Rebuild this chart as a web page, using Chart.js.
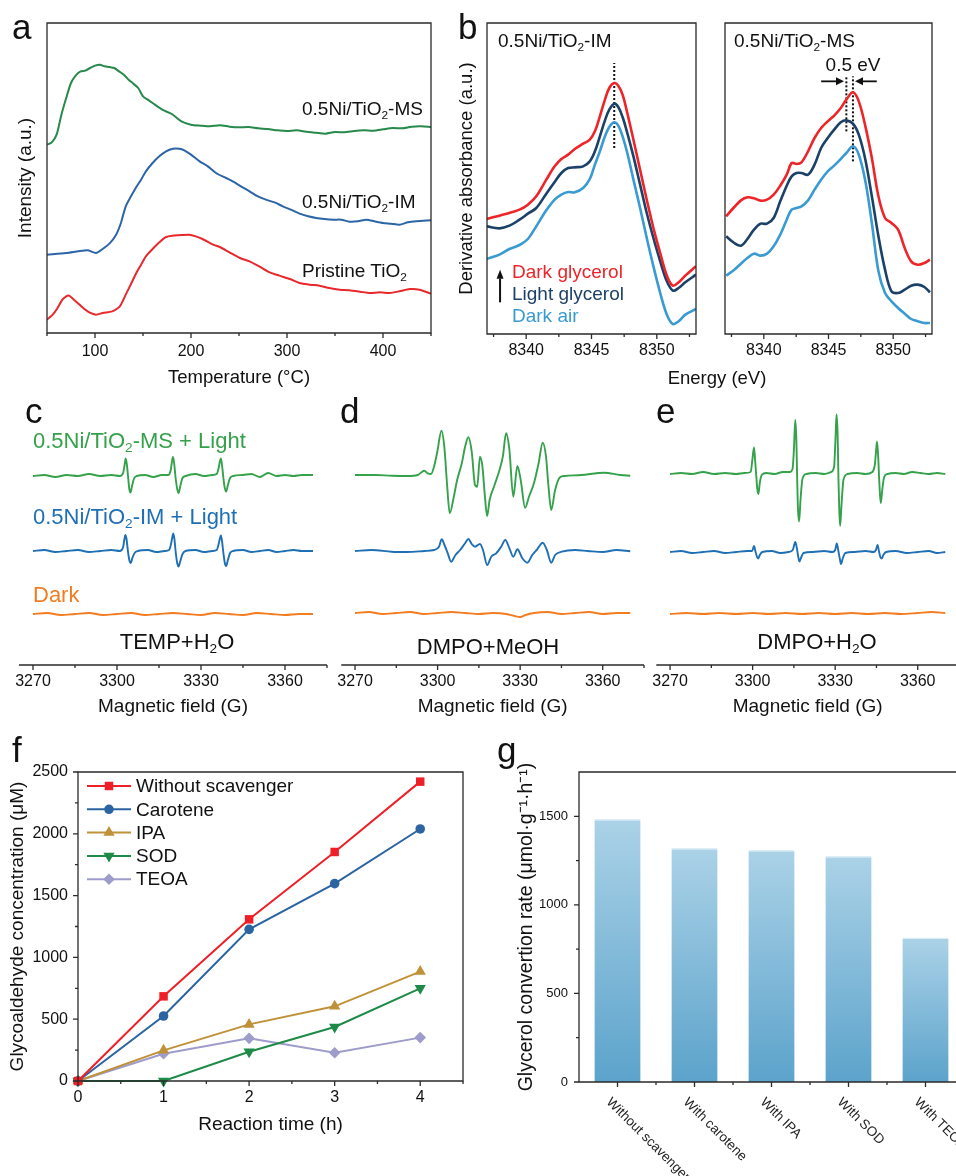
<!DOCTYPE html>
<html>
<head>
<meta charset="utf-8">
<script src="https://cdn.jsdelivr.net/npm/chart.js@4.4.1/dist/chart.umd.min.js"></script>
<style>
  html, body { margin: 0; padding: 0; background: #fff; }
  body { width: 956px; height: 1176px; position: relative; overflow: hidden; font-family: "Liberation Sans", Arial, sans-serif; }
  canvas { position: absolute; }
  .t { position: absolute; white-space: nowrap; line-height: 1; color: #111; }
  .t sub { font-size: 0.62em; vertical-align: -0.3em; line-height: 0; }
</style>
</head>
<body>
<canvas id="pa"></canvas>
<canvas id="pbl"></canvas>
<canvas id="pbr"></canvas>
<canvas id="pc"></canvas>
<canvas id="pd"></canvas>
<canvas id="pe"></canvas>
<canvas id="pf"></canvas>
<canvas id="pg"></canvas>
<script>
'use strict';

// ===== data =====

// a - TPD curves (intensity in arbitrary units)
var tpdMsT = [50,55,60,65,70,75,80,85,90,95,100,105,110,115,120,125,130,135,140,145,150,155,160,170,180,190,200,210,220,230,240,250,260,270,280,290,300,310,320,330,340,350,360,370,380,390,400,410,420,430,440,450];
var tpdMsI = [565,572,595,655,705,750,773,785,787,795,802,805,800,798,795,785,775,760,748,735,710,700,690,670,657,635,625,622,620,623,619,617,618,614,612,608,606,608,604,601,598,603,602,606,608,607,611,615,614,619,620,618];
var tpdImT = [50,70,92,101,108,115,122,127,132,137.5,143,148,153,160,167,174,181,188,193,200,209,217.5,226,236.5,243.5,252,261,269.6,278,287,295.7,304,313,322,330.5,339,348,356.5,365,374,382.6,391,400,408.6,417,426,434.7,450];
var tpdImI = [235,240,248,240,252,268,295,330,380,410,438,460,485,510,530,545,553,553,548,535,515,500,480,465,455,440,425,410,400,392,380,370,358,350,345,342,340,340,334,335,340,335,330,328,325,332,335,338];
var tpdPrT = [50,56,61,66,70,73,78,84,89,94,101,108,118,124,127,132,138,143,148,153,160,167,174,181,190,198,205,212,223,230,240,251,261,271,282,292,303,313,324,334,344,355,365,376,386,397,407,417,428,438,450];
var tpdPrI = [40,55,75,100,110,112,100,85,72,62,55,60,65,75,85,115,150,180,205,230,252,272,288,292,294,295,290,282,265,258,242,225,215,200,182,172,162,150,145,142,135,130,128,124,120,122,120,125,132,130,118];
var aTicks = [100, 200, 300, 400];
var aMinor = [50, 150, 250, 350, 450];

// b - Ni K-edge derivative spectra
var xanesImE = [8336.97,8337.95,8338.72,8339.49,8340.13,8340.77,8341.54,8342.18,8342.69,8343.21,8343.72,8344.36,8344.87,8345.26,8345.64,8346.03,8346.36,8346.74,8347.05,8347.38,8347.74,8348.21,8348.72,8349.23,8349.74,8350.26,8350.77,8351.23,8351.67,8352.18,8353];
var xanesImDarkGly = [345,355,363,373,388,413,463,503,525,538,555,571,583,608,653,703,738,753,745,718,663,583,493,403,318,243,175,145,155,175,203];
var xanesImLightGly = [323,317,325,343,361,378,421,456,483,498,500,503,518,548,593,641,673,691,681,651,603,533,448,363,288,218,158,130,138,155,178];
var xanesImDarkAir = [225,238,255,267,285,323,371,403,418,426,425,438,465,508,548,593,621,635,625,593,543,463,378,288,203,123,58,30,38,58,75];
var xanesMsE = [8337.09,8337.72,8338.23,8338.73,8339.24,8339.75,8340.25,8340.76,8341.27,8341.77,8342.15,8342.53,8342.91,8343.42,8343.92,8344.43,8344.94,8345.44,8345.95,8346.38,8346.89,8347.34,8347.85,8348.35,8348.86,8349.37,8349.87,8350.38,8350.89,8351.39,8351.9,8352.41,8352.84];
var xanesMsDarkGly = [353,381,401,410,407,400,403,418,445,478,513,510,515,548,588,618,638,655,678,703,725,698,623,528,413,348,333,313,258,218,208,213,223];
var xanesMsLightGly = [293,273,265,285,313,331,331,348,398,445,473,483,483,478,508,558,588,613,635,641,631,598,523,413,293,193,128,123,133,145,148,141,125];
var xanesMsDarkAir = [175,193,211,228,241,235,241,263,298,343,373,378,383,401,433,463,488,505,525,543,563,538,458,333,188,123,98,78,61,45,38,33,33];
var imPeakE = 8346.74, imPeakSpan = [558, 813];
var msPeakE = [8346.38, 8346.89], msPeakSpan = [[608, 773], [518, 773]];
var shiftLabel = '0.5 eV', shiftArrowFrom = [8344.43, 8348.73], shiftArrowTo = [8346.2, 8347.05], shiftArrowY = 758, shiftLabelE = 8346.9, shiftLabelY = 788;
var bTicks = [8340, 8345, 8350];
var bMinor = [8337.5, 8342.5, 8347.5, 8352.5];

// c - TEMP + H2O EPR
var cMS = [[3270,189],[3274,190],[3278,188],[3282,190],[3286,189],[3290,191],[3294,189],[3298,190],[3301,189],[3302.2,192],[3302.7,200],[3303.1,206.5],[3303.5,201],[3304,187],[3304.4,176],[3304.8,172.5],[3305.3,178],[3306,186],[3307,189],[3310,190],[3313,188],[3316,190],[3318.3,190],[3319.2,195],[3319.6,203],[3320,208],[3320.4,202],[3320.9,188],[3321.5,176],[3322,172],[3322.6,179],[3323.4,187],[3324.5,189],[3328,191],[3331,189],[3334,190],[3335.6,191],[3336.3,197],[3336.7,203],[3337.1,206.5],[3337.5,200],[3338,187],[3338.5,177],[3339,173.5],[3339.6,180],[3340.4,187],[3341.5,189],[3345,190],[3348,191],[3351,188],[3354,192],[3357,189],[3360,190],[3363,189],[3366,190],[3370,190]];
var cIM = [[3270,114],[3274,115],[3278,113],[3282,114],[3286,115],[3290,113],[3294,114],[3298,115],[3301,114],[3302.2,118],[3302.6,125],[3303,130],[3303.4,126],[3303.9,114],[3304.4,105],[3304.9,102],[3305.5,107],[3306.3,112],[3307.5,114],[3311,115],[3314,113],[3317,114],[3318.6,115],[3319.3,121],[3319.7,127],[3320.1,131.5],[3320.5,126],[3321,112],[3321.5,102],[3322,98.5],[3322.6,104],[3323.4,111],[3324.5,114],[3328,115],[3331,113],[3334,114],[3335.6,115],[3336.3,121],[3336.7,126],[3337.1,129.5],[3337.5,124],[3338,112],[3338.5,102],[3339,99],[3339.6,105],[3340.4,112],[3341.5,114],[3345,115],[3348,113],[3351,114],[3354,115],[3357,113],[3360,114],[3363,115],[3366,114],[3370,114]];
var cDark = [[3270,51],[3275,52],[3280,50],[3285,51],[3290,52],[3295,50],[3300,51],[3305,52],[3310,50],[3315,51],[3320,52],[3325,51],[3330,50],[3335,52],[3340,51],[3345,50],[3350,52],[3355,51],[3360,50],[3365,51],[3370,51]];

// d - DMPO + MeOH EPR
var dMS = [[3270,190],[3277.4,190],[3283.3,189.3],[3289.2,189],[3292.8,190],[3295.2,194.3],[3296.4,191.7],[3297.6,191],[3298.7,198.3],[3299.9,213.3],[3301.4,234.3],[3302.5,216.7],[3303.5,178.3],[3304.4,151.7],[3305.9,168.3],[3307.1,185],[3308.8,201.7],[3310,218.3],[3311.2,227.7],[3312.4,213.3],[3313.6,180],[3314.4,178.3],[3315.4,208.3],[3316.3,198.3],[3317.1,171.7],[3318,149],[3318.9,165],[3320.7,180],[3322.5,195],[3323.7,208.3],[3324.9,231.7],[3326.1,215],[3327.5,168.3],[3329,199],[3330.2,185],[3331.8,157.3],[3333.2,168.3],[3335,181.7],[3336.7,201.7],[3338.2,222.3],[3339.4,208.3],[3340.3,178.3],[3341.3,155],[3342.7,175],[3344.5,187.7],[3346.2,189],[3352.2,190],[3360.5,192.3],[3366.4,190],[3370,189.3]];
var dIM = [[3270,114],[3276,115],[3283.3,113.3],[3289,113],[3295.2,114],[3298.7,115],[3300.5,118.3],[3301.5,125.7],[3302.5,120],[3303.7,111.7],[3304.9,103.3],[3306.5,110],[3308.2,115],[3310,121.7],[3311.2,126],[3312.4,121],[3313.6,118.3],[3315.4,121],[3316.6,114],[3318,100],[3319.5,108.3],[3321.3,111.7],[3323.1,118.3],[3324.6,125],[3326.1,116.7],[3327.5,108.3],[3329,115.7],[3330.8,106.7],[3332.6,102.3],[3334.4,110],[3336.2,115.7],[3338.2,122.3],[3339.7,115],[3341.3,102.3],[3342.7,110],[3345.1,113.3],[3350,115],[3354.6,114],[3360,113],[3365,115],[3370,113.7]];
var dDark = [[3270,52],[3275,53],[3280,51],[3285,52],[3290,53],[3295,51],[3300,52],[3305,53],[3310,52],[3315,51],[3320,52],[3325,51],[3328,49],[3330,48],[3332,50],[3335,52],[3340,53],[3345,51],[3350,52],[3355,53],[3360,51],[3365,52],[3370,52]];

// e - DMPO + H2O EPR
var eMS = [[3270,191],[3274,192],[3278,191],[3282,193],[3286,191],[3290,192],[3294,191],[3297,192],[3299.3,193],[3299.9,205],[3300.5,217.5],[3300.9,205],[3301.3,190],[3301.7,176],[3302.1,171],[3302.6,182],[3303.3,190],[3305,192],[3308,191],[3311,193],[3313.5,193],[3314.5,196],[3315,215],[3315.5,245],[3315.9,225],[3316.2,185],[3316.5,155],[3316.9,143.5],[3317.4,165],[3318.1,186],[3319.5,191],[3323,192],[3326,191],[3328.5,193],[3329.6,198],[3330.1,225],[3330.5,250.5],[3330.9,230],[3331.2,185],[3331.5,155],[3331.8,139],[3332.3,160],[3333,185],[3334.5,191],[3338,192],[3341,191],[3343.5,193],[3344.4,200],[3344.8,212],[3345.2,223.5],[3345.6,210],[3346,185],[3346.3,170],[3346.6,162],[3347.1,175],[3347.8,188],[3349,191],[3352,192],[3355,191],[3358,193],[3361,192],[3364,191],[3367,192],[3370,191]];
var eIM = [[3270,113],[3274,114],[3278,112],[3282,113],[3286,114],[3290,112],[3294,113],[3298,114],[3299.8,114],[3300.5,119],[3301,114],[3301.6,108],[3302,106.5],[3302.6,110],[3303.5,113],[3307,114],[3310,112],[3313,113],[3314.6,115],[3315.5,123],[3316,118],[3316.6,108],[3317,103.5],[3317.7,108],[3318.5,112],[3322,113],[3326,114],[3329,113],[3330,115],[3330.6,121.5],[3331.1,115],[3331.7,106],[3332.1,101],[3332.8,107],[3333.7,112],[3337,113],[3341,114],[3344,113],[3344.8,115],[3345.4,120],[3345.9,114],[3346.4,108],[3346.9,106.5],[3347.5,110],[3348.5,113],[3352,114],[3356,112],[3360,113],[3364,114],[3367,112],[3370,113]];
var eDark = [[3270,51],[3276,52],[3282,51],[3288,52],[3294,51],[3300,52],[3306,51],[3312,52],[3318,51],[3324,52],[3330,51],[3336,52],[3342,51],[3348,52],[3354,51],[3360,52],[3365,53],[3370,52]];
var eprTicks = [3270, 3300, 3330, 3360];
var eprMinor = [3285, 3315, 3345, 3375];

// f - scavenger experiments
var fTimes = [0, 1, 2, 3, 4];
var fWithout = [0, 685, 1308, 1853, 2422];
var fCarotene = [0, 526, 1227, 1597, 2039];
var fIPA = [0, 248, 458, 604, 885];
var fSOD = [0, 0, 237, 437, 750];
var fTEOA = [0, 221, 345, 229, 351];
var fTicksX = [0, 1, 2, 3, 4], fMinorX = [0.5, 1.5, 2.5, 3.5, 4.5];
var fTicksY = [0, 500, 1000, 1500, 2000, 2500], fMinorY = [250, 750, 1250, 1750, 2250];

// g - conversion rates
var gLabels = ['Without scavenger', 'With carotene', 'With IPA', 'With SOD', 'With TEOA'];
var gRates = [1485, 1321, 1310, 1276, 816];
var gTicksY = [0, 500, 1000, 1500], gMinorY = [250, 750, 1250];

// ===== setup =====
var FONT = '"Liberation Sans", Arial, Helvetica, sans-serif';
var INK = '#2a2a2a';
Chart.defaults.font.family = FONT;
Chart.defaults.color = '#111';
Chart.defaults.animation = false;
Chart.defaults.responsive = false;
Chart.defaults.events = [];
Chart.defaults.plugins.legend.display = false;
Chart.defaults.plugins.tooltip.enabled = false;
Chart.defaults.elements.point.radius = 0;

function place(id, x, y, w, h) {
    var c = document.getElementById(id);
    c.width = w; c.height = h;
    c.style.left = x + 'px'; c.style.top = y + 'px';
    return c;
}

function pairs(xs, ys) {
    var out = [];
    for (var i = 0; i < xs.length; i++) out.push({ x: xs[i], y: ys[i] });
    return out;
}

function pts(list) {
    return list.map(function(p) { return { x: p[0], y: p[1] }; });
}

// axis with fixed box size so the plot area lands where the figure has it
function axis(o) {
    var ax = {
        type: o.type || 'linear',
        display: o.display !== false,
        grid: { display: false, drawTicks: false },
        border: { display: false },
        ticks: {
            display: !!o.ticks, autoSkip: false, maxRotation: 0, color: '#111',
            font: { size: o.size || 15 }, padding: o.pad || 8,
            callback: function(v) { return String(v); }
        },
        title: o.title ? { display: true, text: o.title, color: '#111', font: { size: o.tsize }, padding: o.tpad } : { display: false }
    };
    if (o.fit !== undefined) ax.afterFit = function(s) { if (s.isHorizontal()) s.height = o.fit; else s.width = o.fit; };
    if (o.min !== undefined) { ax.min = o.min; ax.max = o.max; }
    if (o.ticks) ax.afterBuildTicks = function(s) { s.ticks = o.ticks.map(function(v) { return { value: v }; }); };
    return ax;
}

// frame + outward tick marks
function deco(o) {
    return {
        id: 'deco',
        afterDraw: function(chart) {
            var ctx = chart.ctx, a = chart.chartArea, sx = chart.scales.x, sy = chart.scales.y;
            ctx.save();
            ctx.strokeStyle = INK; ctx.lineWidth = 1.3;
            ctx.beginPath();
            if (o.box) ctx.rect(a.left, a.top, a.right - a.left, a.bottom - a.top);
            else { ctx.moveTo(a.left, a.bottom); ctx.lineTo(a.right, a.bottom); }
            ctx.stroke();
            ctx.beginPath();
            function xt(list, len) {
                (list || []).forEach(function(v) { var p = sx.getPixelForValue(v); ctx.moveTo(p, a.bottom); ctx.lineTo(p, a.bottom + len); });
            }
            function yt(list, len) {
                (list || []).forEach(function(v) { var p = sy.getPixelForValue(v); ctx.moveTo(a.left, p); ctx.lineTo(a.left - len, p); });
            }
            xt(o.xMajor, 5); xt(o.xMinor, 3);
            yt(o.yMajor, 5); yt(o.yMinor, 3);
            ctx.stroke();
            ctx.restore();
            if (o.extra) o.extra(chart, chart.ctx);
        }
    };
}

function arrow(ctx, x1, y1, x2, y2, len, half) {
    var ang = Math.atan2(y2 - y1, x2 - x1);
    var bx = x2 - Math.cos(ang) * len, by = y2 - Math.sin(ang) * len;
    ctx.beginPath(); ctx.moveTo(x1, y1); ctx.lineTo(bx, by); ctx.stroke();
    ctx.beginPath(); ctx.moveTo(x2, y2);
    ctx.lineTo(bx + Math.sin(ang) * half, by - Math.cos(ang) * half);
    ctx.lineTo(bx - Math.sin(ang) * half, by + Math.cos(ang) * half);
    ctx.closePath(); ctx.fill();
}

function curve(data, color, width, tension) {
    return { data: data, borderColor: color, backgroundColor: color, borderWidth: width, tension: tension || 0, pointRadius: 0, fill: false };
}

function label(html, x, base, size, color, align) {
    var d = document.createElement('div');
    d.className = 't';
    d.innerHTML = html;
    d.style.left = x + 'px';
    d.style.top = (base - 0.85 * size) + 'px';
    d.style.fontSize = size + 'px';
    if (color) d.style.color = color;
    if (align === 'center') d.style.transform = 'translateX(-50%)';
    document.body.appendChild(d);
}

// ===== a =====
new Chart(place('pa', 0, 0, 440, 400), {
    type: 'line',
    data: { datasets: [
        curve(pairs(tpdMsT, tpdMsI), '#27894b', 2, 0.25),
        curve(pairs(tpdImT, tpdImI), '#2c65a6', 2, 0.25),
        curve(pairs(tpdPrT, tpdPrI), '#e8282c', 2, 0.25)
    ] },
    options: {
        layout: { padding: { left: 0, top: 23, right: 9, bottom: 0 } },
        scales: {
            x: axis({ min: 50, max: 450, ticks: aTicks, size: 16, pad: 8.5, fit: 67, title: 'Temperature (\u00b0C)', tsize: 18.5, tpad: { top: 0, bottom: 10.9 } }),
            y: axis({ min: 0, max: 930, fit: 47, title: 'Intensity (a.u.)', tsize: 19, tpad: { top: 14.6, bottom: 0 } })
        }
    },
    plugins: [deco({ box: true, xMajor: aTicks, xMinor: aMinor })]
});

// ===== b =====
var B_RED = '#ee2428', B_NAVY = '#1c4168', B_SKY = '#3a9ad2';

new Chart(place('pbl', 450, 0, 250, 400), {
    type: 'line',
    data: { datasets: [
        curve(pairs(xanesImE, xanesImDarkGly), B_RED, 2.6, 0.35),
        curve(pairs(xanesImE, xanesImLightGly), B_NAVY, 2.6, 0.35),
        curve(pairs(xanesImE, xanesImDarkAir), B_SKY, 2.6, 0.35),
        { data: [{ x: imPeakE, y: imPeakSpan[0] }, { x: imPeakE, y: imPeakSpan[1] }], borderColor: '#111', borderWidth: 2, borderDash: [2, 2], pointRadius: 0 }
    ] },
    options: {
        layout: { padding: { left: 0, top: 23, right: 4, bottom: 0 } },
        scales: {
            x: axis({ min: 8337, max: 8353, ticks: bTicks, size: 16, pad: 7.4, fit: 66 }),
            y: axis({ min: 0, max: 933, fit: 37, title: 'Derivative absorbance (a.u.)', tsize: 18.5, tpad: { top: 5.9, bottom: 0 } })
        }
    },
    plugins: [deco({ box: true, xMajor: bTicks, xMinor: bMinor, extra: function(chart, ctx) {
        var sx = chart.scales.x, sy = chart.scales.y, px = sx.getPixelForValue(8338);
        ctx.save(); ctx.strokeStyle = '#111'; ctx.fillStyle = '#111'; ctx.lineWidth = 2;
        arrow(ctx, px, sy.getPixelForValue(95), px, sy.getPixelForValue(193), 9, 3.5);
        ctx.restore();
    } })]
});

new Chart(place('pbr', 705, 0, 235, 400), {
    type: 'line',
    data: { datasets: [
        curve(pairs(xanesMsE, xanesMsDarkGly), B_RED, 2.6, 0.35),
        curve(pairs(xanesMsE, xanesMsLightGly), B_NAVY, 2.6, 0.35),
        curve(pairs(xanesMsE, xanesMsDarkAir), B_SKY, 2.6, 0.35),
        { data: [{ x: msPeakE[0], y: msPeakSpan[0][0] }, { x: msPeakE[0], y: msPeakSpan[0][1] }], borderColor: '#111', borderWidth: 2, borderDash: [2, 2], pointRadius: 0 },
        { data: [{ x: msPeakE[1], y: msPeakSpan[1][0] }, { x: msPeakE[1], y: msPeakSpan[1][1] }], borderColor: '#111', borderWidth: 2, borderDash: [2, 2], pointRadius: 0 }
    ] },
    options: {
        layout: { padding: { left: 20, top: 23, right: 8, bottom: 0 } },
        scales: {
            x: axis({ min: 8337, max: 8353, ticks: bTicks, size: 16, pad: 7.4, fit: 66 }),
            y: axis({ min: 0, max: 933, display: false })
        }
    },
    plugins: [deco({ box: true, xMajor: bTicks, xMinor: bMinor, extra: function(chart, ctx) {
        var sx = chart.scales.x, sy = chart.scales.y, ya = sy.getPixelForValue(shiftArrowY);
        ctx.save(); ctx.strokeStyle = '#111'; ctx.fillStyle = '#111'; ctx.lineWidth = 1.8;
        for (var i = 0; i < 2; i++) arrow(ctx, sx.getPixelForValue(shiftArrowFrom[i]), ya, sx.getPixelForValue(shiftArrowTo[i]), ya, 8, 4);
        ctx.font = '19px ' + FONT; ctx.textAlign = 'center'; ctx.textBaseline = 'alphabetic';
        ctx.fillText(shiftLabel, sx.getPixelForValue(shiftLabelE), sy.getPixelForValue(shiftLabelY));
        ctx.restore();
    } })]
});

// ===== c, d, e =====
var E_GREEN = '#35a24b', E_BLUE = '#1f6fb5', E_ORANGE = '#f47c20';

function eprTrace(list, color) {
    var ds = curve(pts(list), color, 1.9, 0.4);
    ds.cubicInterpolationMode = 'monotone';
    return ds;
}

function eprChart(id, x, w, padL, padR, ms, im, dark) {
    return new Chart(place(id, x, 390, w, 330), {
        type: 'line',
        data: { datasets: [eprTrace(ms, E_GREEN), eprTrace(im, E_BLUE), eprTrace(dark, E_ORANGE)] },
        options: {
            layout: { padding: { left: padL, top: 5, right: padR, bottom: 0 } },
            scales: {
                x: axis({ min: 3265, max: 3375, ticks: eprTicks, size: 16, pad: 7, fit: 55, title: 'Magnetic field (G)', tsize: 19, tpad: { top: 0, bottom: 2.1 } }),
                y: axis({ min: 0, max: 270, display: false })
            }
        },
        plugins: [deco({ box: false, xMajor: eprTicks, xMinor: eprMinor })]
    });
}
eprChart('pc', 0, 334, 19, 7, cMS, cIM, cDark);
eprChart('pd', 330, 320, 5, 6, dMS, dIM, dDark);
eprChart('pe', 645, 330, 6, 16, eMS, eIM, eDark);

// ===== f =====
var fSeries = [
    { name: 'Without scavenger', data: fWithout, color: '#ee1f26', style: 'rect', r: 6, rot: 0 },
    { name: 'Carotene', data: fCarotene, color: '#2b64a0', style: 'circle', r: 4.8, rot: 0 },
    { name: 'IPA', data: fIPA, color: '#bf9139', style: 'triangle', r: 6.5, rot: 0 },
    { name: 'SOD', data: fSOD, color: '#1d8a48', style: 'triangle', r: 6.5, rot: 180 },
    { name: 'TEOA', data: fTEOA, color: '#9d9cca', style: 'rectRot', r: 5.8, rot: 0 }
];

new Chart(place('pf', 0, 740, 470, 410), {
    type: 'line',
    data: { datasets: fSeries.map(function(s) {
        return {
            data: pairs(fTimes, s.data), borderColor: s.color, backgroundColor: s.color, borderWidth: 2,
            pointStyle: s.style, pointRadius: s.r, pointRotation: s.rot, pointBorderWidth: 0, clip: false
        };
    }) },
    options: {
        layout: { padding: { left: 0, top: 32, right: 7, bottom: 0 } },
        scales: {
            x: axis({ min: 0, max: 4.5, ticks: fTicksX, size: 16, pad: 7, fit: 69, title: 'Reaction time (h)', tsize: 19, tpad: { top: 0, bottom: 14.1 } }),
            y: axis({ min: 0, max: 2500, ticks: fTicksY, size: 16, pad: 10, fit: 78, title: 'Glycoaldehyde concentration (\u03bcM)', tsize: 19, tpad: { top: 6.6, bottom: 0 } })
        }
    },
    plugins: [deco({ box: true, xMajor: fTicksX, xMinor: fMinorX, yMajor: fTicksY, yMinor: fMinorY, extra: function(chart, ctx) {
        // legend: line + marker + name
        var a = chart.chartArea;
        ctx.save();
        ctx.font = '19px ' + FONT; ctx.textBaseline = 'middle'; ctx.textAlign = 'left';
        fSeries.forEach(function(s, i) {
            var y = a.top + 14 + i * 23.3;
            ctx.strokeStyle = s.color; ctx.fillStyle = s.color; ctx.lineWidth = 2;
            ctx.beginPath(); ctx.moveTo(a.left + 9, y); ctx.lineTo(a.left + 53, y); ctx.stroke();
            Chart.helpers.drawPoint(ctx, { pointStyle: s.style, radius: s.r, rotation: s.rot, borderWidth: 0 }, a.left + 31, y);
            ctx.fillStyle = '#111';
            ctx.fillText(s.name, a.left + 58, y + 1);
        });
        ctx.restore();
    } })]
});

// ===== g =====
new Chart(place('pg', 490, 740, 485, 436), {
    type: 'bar',
    data: { labels: gLabels, datasets: [{
        data: gRates,
        backgroundColor: function(c) {
            var ch = c.chart;
            if (!ch.chartArea) return '#8fc0dd';
            var top = ch.scales.y.getPixelForValue(gRates[c.dataIndex]), base = ch.scales.y.getPixelForValue(0);
            var g = ch.ctx.createLinearGradient(0, top, 0, base);
            g.addColorStop(0, '#abd2e7'); g.addColorStop(1, '#5ca3cb');
            return g;
        },
        borderColor: '#dcedf6', borderWidth: { top: 1.5, left: 0, right: 0, bottom: 0 },
        barPercentage: 0.6, categoryPercentage: 1
    }] },
    options: {
        layout: { padding: { left: 0, top: 32, right: 11, bottom: 0 } },
        scales: {
            x: axis({ type: 'category', fit: 94 }),
            y: axis({ min: 0, max: 1750, ticks: gTicksY, size: 13, pad: 11, fit: 89, title: 'Glycerol convertion rate (\u03bcmol\u00b7g\u207b\u00b9\u00b7h\u207b\u00b9)', tsize: 19.5, tpad: { top: 24.5, bottom: 0 } })
        }
    },
    plugins: [deco({ box: true, xMajor: [0, 1, 2, 3, 4], xMinor: [0.5, 1.5, 2.5, 3.5], yMajor: gTicksY, yMinor: gMinorY, extra: function(chart, ctx) {
        var a = chart.chartArea, sx = chart.scales.x;
        ctx.save();
        ctx.font = '13.5px ' + FONT; ctx.fillStyle = '#222'; ctx.textAlign = 'left'; ctx.textBaseline = 'middle';
        gLabels.forEach(function(t, i) {
            ctx.save();
            ctx.translate(sx.getPixelForValue(i) - 9, a.bottom + 18);
            ctx.rotate(Math.PI / 4);
            ctx.fillText(t, 0, 0);
            ctx.restore();
        });
        ctx.restore();
    } })]
});

// ===== text =====
label('a', 12, 39, 35);
label('b', 458, 39, 35);
label('c', 25, 423, 35);
label('d', 340, 423, 35);
label('e', 656, 423, 35);
label('f', 12, 762, 35);
label('g', 497, 762, 35);

label('0.5Ni/TiO<sub>2</sub>-MS', 302, 115, 19);
label('0.5Ni/TiO<sub>2</sub>-IM', 302, 208, 19);
label('Pristine TiO<sub>2</sub>', 302, 277, 19);

label('0.5Ni/TiO<sub>2</sub>-IM', 498, 47, 19);
label('0.5Ni/TiO<sub>2</sub>-MS', 734, 47, 19);
label('Dark glycerol', 512, 278, 19, B_RED);
label('Light glycerol', 512, 300, 19, B_NAVY);
label('Dark air', 512, 322, 19, B_SKY);
label('Energy (eV)', 717, 384.5, 18.5, null, 'center');

label('0.5Ni/TiO<sub>2</sub>-MS + Light', 33, 449, 22, E_GREEN);
label('0.5Ni/TiO<sub>2</sub>-IM + Light', 33, 525, 22, E_BLUE);
label('Dark', 33, 603, 22, E_ORANGE);
label('TEMP+H<sub>2</sub>O', 177, 650, 22, null, 'center');
label('DMPO+MeOH', 488, 655, 22, null, 'center');
label('DMPO+H<sub>2</sub>O', 817, 650, 22, null, 'center');
</script>
</body>
</html>
